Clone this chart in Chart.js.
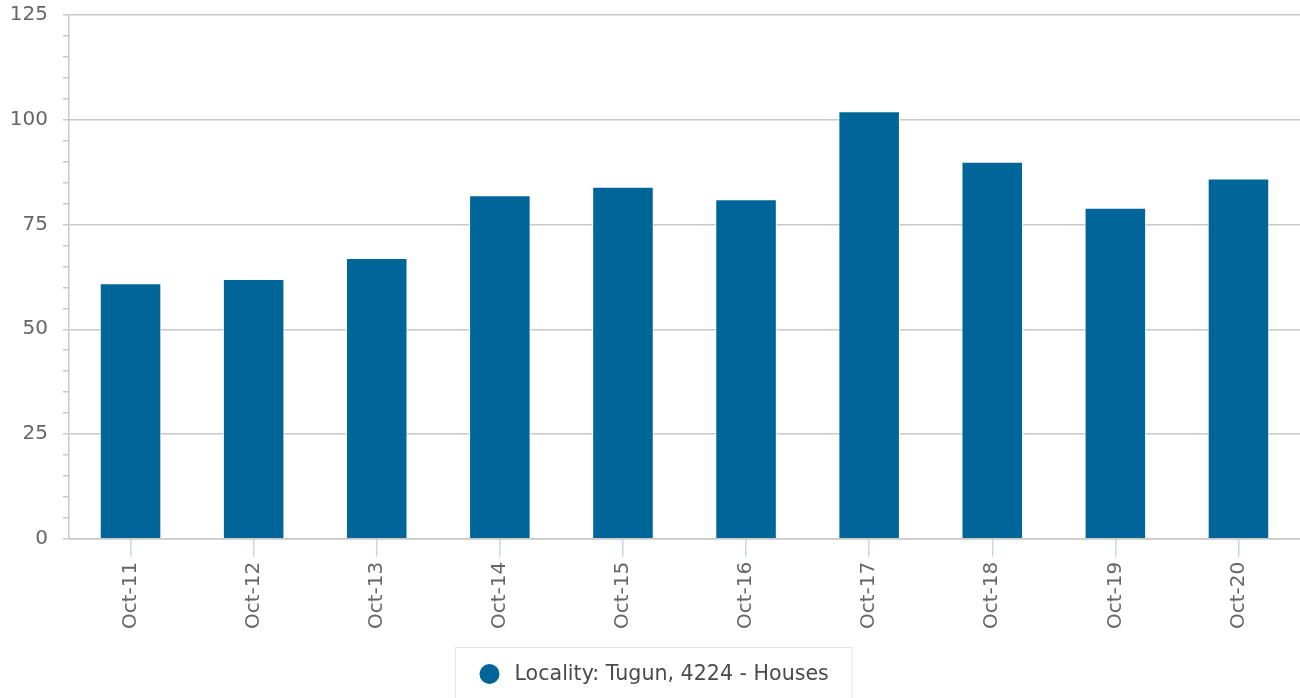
<!DOCTYPE html>
<html>
<head>
<meta charset="utf-8">
<title>Tugun 4224 - Houses</title>
<script src="https://cdn.jsdelivr.net/npm/chart.js@4.4.1/dist/chart.umd.min.js"></script>
<style>
  html, body { margin: 0; padding: 0; background: #fff; }
  #wrap { position: relative; width: 1300px; height: 698px; }
</style>
</head>
<body>
<div id="wrap"><canvas id="chart"></canvas></div>
<script>
  // data
  const categories = ['Oct-11', 'Oct-12', 'Oct-13', 'Oct-14', 'Oct-15', 'Oct-16', 'Oct-17', 'Oct-18', 'Oct-19', 'Oct-20'];
  const seriesName = 'Locality: Tugun, 4224 - Houses';
  const seriesValues = [61, 62, 67, 82, 84, 81, 102, 90, 79, 86];
  const yTicks = [0, 25, 50, 75, 100, 125];

  const FONT = 'DejaVu Sans';
  const BAR_COLOR = '#006699';

  // boxed legend under the axis, drawn from the dataset itself
  const boxLegend = {
    id: 'boxLegend',
    afterDraw(chart) {
      const ctx = chart.ctx;
      const ds = chart.data.datasets[0];
      ctx.save();
      ctx.font = '20.6px "' + FONT + '"';
      const textW = ctx.measureText(ds.label).width;
      const boxW = 24 + 20 + 15 + textW + 23;
      const boxX = Math.round((chart.width - boxW) / 2) + 3.5;
      const boxY = 647.5;
      ctx.strokeStyle = '#e6e6e6';
      ctx.lineWidth = 1;
      ctx.strokeRect(boxX, boxY, boxW, 70);
      const cy = 674;
      ctx.fillStyle = ds.backgroundColor;
      ctx.beginPath();
      ctx.arc(boxX + 24 + 10, cy, 10, 0, Math.PI * 2);
      ctx.fill();
      ctx.fillStyle = '#4a4a4a';
      ctx.textBaseline = 'middle';
      ctx.fillText(ds.label, boxX + 24 + 20 + 15, cy + 1);
      ctx.restore();
    }
  };

  new Chart(document.getElementById('chart'), {
    type: 'bar',
    data: {
      labels: categories,
      datasets: [{
        label: seriesName,
        data: seriesValues,
        backgroundColor: BAR_COLOR,
        borderColor: '#ffffff',
        borderWidth: 1,
        barPercentage: 0.5,
        categoryPercentage: 1
      }]
    },
    options: {
      responsive: true,
      maintainAspectRatio: false,
      animation: false,
      layout: { padding: { left: 0, right: 0, top: 15, bottom: 64 } },
      plugins: { legend: { display: false }, tooltip: { enabled: false } },
      scales: {
        x: {
          offset: true,
          border: { display: true, color: '#c8c8c8', width: 1.5 },
          grid: { display: true, drawOnChartArea: false, offset: false, tickLength: 18, tickColor: '#ccd6eb', lineWidth: 1.5 },
          ticks: { color: '#666', font: { family: FONT, size: 20 }, minRotation: 90, maxRotation: 90, padding: 5, autoSkip: false }
        },
        y: {
          min: yTicks[0],
          max: yTicks[yTicks.length - 1],
          afterFit: (s) => { s.width = 69; s.paddingTop = 0; s.paddingBottom = 0; },
          border: { display: true, color: '#c8c8c8', width: 1.5 },
          grid: {
            lineWidth: 1.5,
            tickLength: 6,
            tickColor: '#c8c8c8',
            color: (c) => (yTicks.includes(c.tick.value) ? '#c8c8c8' : 'rgba(0,0,0,0)')
          },
          ticks: {
            stepSize: 5,
            maxTicksLimit: 40,
            autoSkip: false,
            padding: 15,
            color: '#666',
            font: { family: FONT, size: 20 },
            callback: (v) => (yTicks.includes(v) ? String(v) : '')
          }
        }
      }
    },
    plugins: [boxLegend]
  });
</script>
</body>
</html>
